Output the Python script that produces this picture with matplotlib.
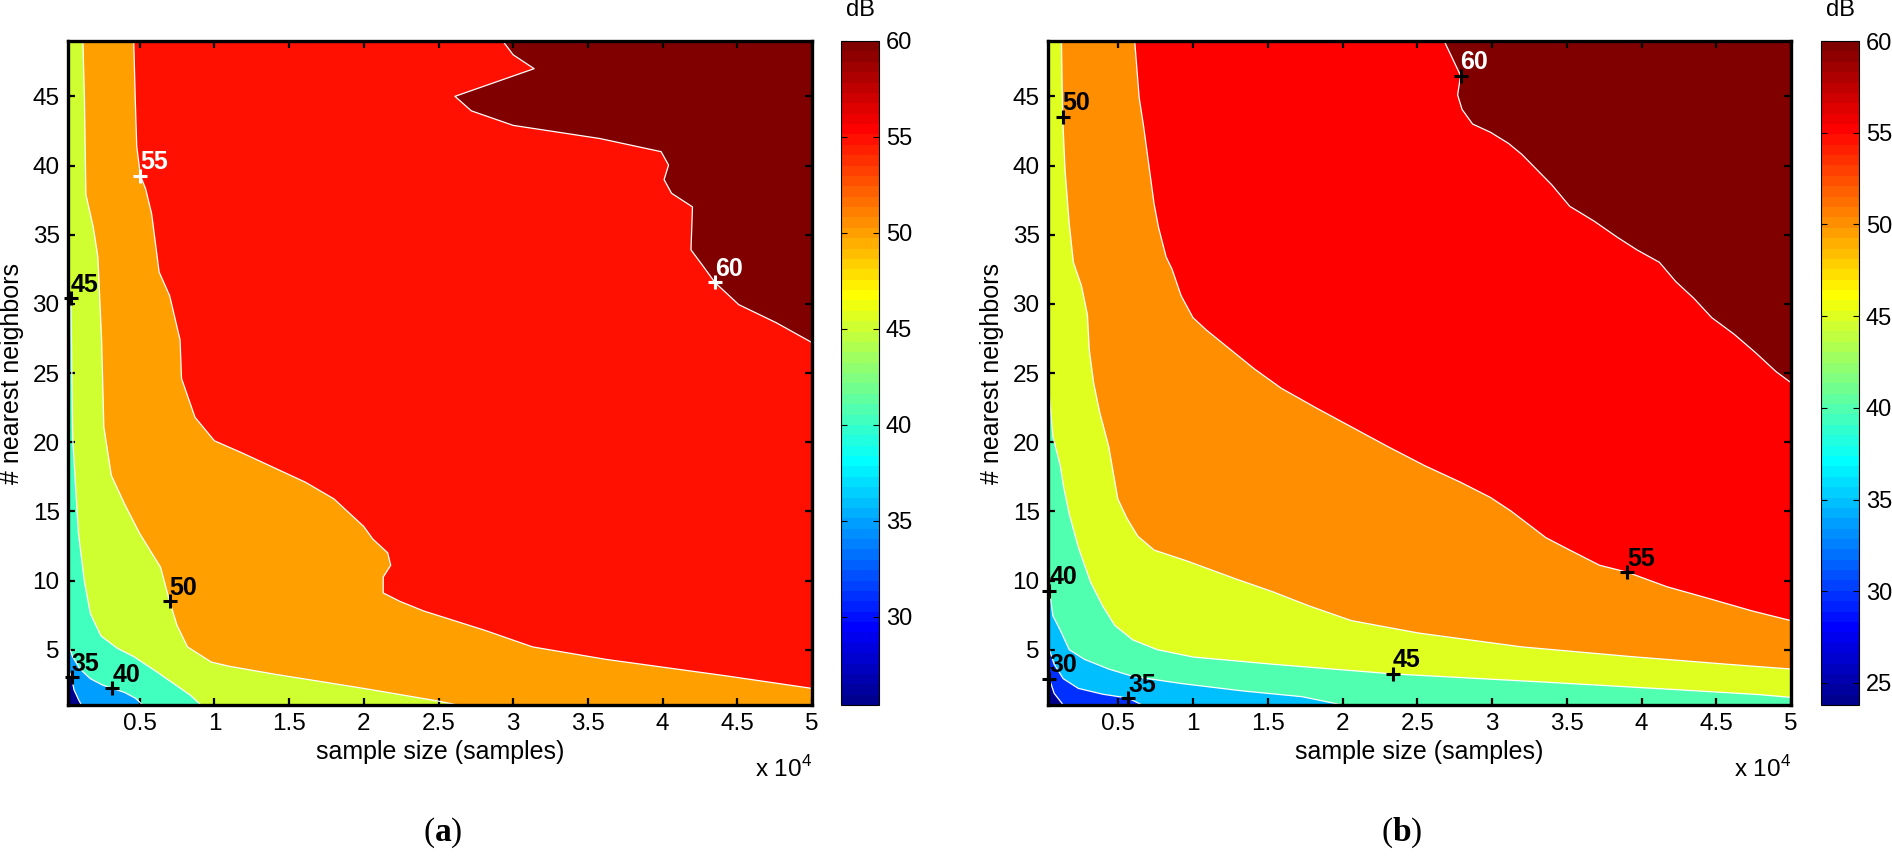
import numpy as np
import matplotlib
matplotlib.use("Agg")
import matplotlib.pyplot as plt
from matplotlib.colors import ListedColormap, Normalize
from matplotlib.cm import ScalarMappable

plt.rcParams['font.family'] = ['Liberation Sans', 'DejaVu Sans']
plt.rcParams['mathtext.fontset'] = 'custom'
plt.rcParams['mathtext.rm'] = 'Liberation Sans'
plt.rcParams['mathtext.bf'] = 'Liberation Serif:bold'

# x in units of 10^4 samples, y = number of nearest neighbours
# each contour line is read off the picture, from its upper/left end to its lower/right end

# ---- panel (a) ----
a_clim = (25.4, 60.0)
a_xlim = (0.02, 5.0)
a_ylim = (1.0, 49.0)

a35_x = [0.02, 0.044, 0.06, 0.09, 0.11]
a35_y = [3.6, 3.0, 2.1, 1.4, 1.0]
a40_x = [0.02, 0.05, 0.10, 0.17, 0.25, 0.316, 0.40, 0.47, 0.52]
a40_y = [5.4, 4.5, 3.6, 2.9, 2.45, 2.21, 1.9, 1.5, 1.0]
a45_x = [0.02, 0.039, 0.043, 0.051, 0.07, 0.09, 0.13, 0.17, 0.24, 0.35, 0.46, 0.60, 0.72, 0.84, 0.91]
a45_y = [31.5, 30.4, 27.4, 20.4, 16.9, 13.4, 9.9, 7.6, 6.0, 5.1, 4.5, 3.5, 2.6, 1.7, 1.0]
a50_x = [0.12, 0.13, 0.14, 0.19, 0.22, 0.245, 0.26, 0.31, 0.40, 0.50, 0.64, 0.70, 0.75, 0.82, 0.98,
         1.10, 1.39, 2.00, 2.49, 2.63]
a50_y = [49.0, 44.9, 37.9, 35.5, 33.4, 27.4, 21.1, 17.6, 15.5, 13.4, 10.95, 8.5, 6.75, 5.2, 4.1,
         3.8, 3.25, 2.2, 1.3, 1.0]
a55_x = [0.46, 0.47, 0.48, 0.505, 0.54, 0.58, 0.63, 0.70, 0.77, 0.78, 0.87, 1.00, 1.19, 1.41, 1.61,
         1.80, 2.00, 2.06, 2.16, 2.18, 2.13, 2.13, 2.24, 2.40, 2.81, 3.13, 3.62, 4.43, 5.0]
a55_y = [49.0, 44.9, 41.4, 39.26, 38.3, 36.5, 32.3, 30.6, 27.4, 24.6, 21.8, 20.1, 19.2, 18.1, 17.1,
         15.9, 13.9, 13.0, 12.0, 11.1, 10.25, 9.1, 8.5, 7.8, 6.4, 5.2, 4.3, 3.1, 2.2]
a60_x = [2.93, 3.00, 3.14, 2.61, 2.72, 3.00, 3.58, 3.99, 4.04, 4.01, 4.06, 4.20, 4.19, 4.27, 4.35,
         4.51, 4.76, 5.0]
a60_y = [49.0, 48.0, 47.0, 45.0, 43.95, 42.9, 41.95, 41.0, 40.03, 38.98, 37.99, 37.01, 33.9, 32.74,
         31.55, 29.94, 28.64, 27.2]

a_label_x = [0.044, 0.316, 0.039, 0.70, 0.505, 4.35]
a_label_y = [3.0, 2.21, 30.4, 8.5, 39.26, 31.55]
a_label_lev = [35, 40, 45, 50, 55, 60]

# ---- panel (b) ----
b_clim = (23.8, 60.0)
b_xlim = (0.03, 5.0)
b_ylim = (1.0, 49.0)

b30_x = [0.03, 0.039, 0.071, 0.132]
b30_y = [3.1, 2.9, 1.85, 1.0]
b35_x = [0.03, 0.071, 0.132, 0.233, 0.396, 0.566, 0.66]
b35_y = [5.3, 3.95, 2.9, 2.2, 1.78, 1.5, 1.0]
b40_x = [0.03, 0.039, 0.063, 0.112, 0.172, 0.274, 0.436, 0.598, 0.923, 1.33, 1.73, 2.0]
b40_y = [9.6, 9.27, 7.45, 6.4, 5.0, 4.3, 3.6, 3.07, 2.55, 2.02, 1.6, 1.0]
b45_x = [0.03, 0.063, 0.112, 0.132, 0.172, 0.233, 0.314, 0.396, 0.477, 0.598, 0.761, 1.00, 1.53,
         2.335, 3.36, 4.17, 4.79, 5.0]
b45_y = [24.5, 20.4, 18.3, 16.9, 14.8, 12.4, 9.9, 8.15, 6.75, 5.7, 5.0, 4.47, 3.95,
         3.25, 2.65, 2.15, 1.75, 1.55]
b50_x = [0.12, 0.128, 0.144, 0.172, 0.20, 0.254, 0.294, 0.306, 0.335, 0.375, 0.436, 0.497, 0.558,
         0.631, 0.74, 0.963, 1.29, 1.53, 1.78, 2.06, 2.51, 3.20, 3.93, 4.57, 5.0]
b50_y = [49.0, 43.53, 39.7, 35.8, 33.0, 31.3, 29.2, 26.7, 24.3, 22.2, 19.7, 15.9, 14.5,
         13.2, 12.2, 11.4, 10.1, 9.2, 8.15, 7.1, 6.2, 5.2, 4.5, 3.95, 3.6]
b55_x = [0.61, 0.64, 0.67, 0.70, 0.74, 0.77, 0.82, 0.86, 0.92, 1.00, 1.09, 1.25, 1.41, 1.59, 1.82,
         2.06, 2.30, 2.55, 2.79, 2.99, 3.13, 3.36, 3.52, 3.72, 3.905, 4.17, 4.45, 4.74, 5.0]
b55_y = [49.0, 44.9, 42.8, 40.4, 37.2, 35.5, 33.4, 32.5, 30.6, 29.0, 28.1, 26.7, 25.3, 23.9, 22.5,
         21.1, 19.7, 18.3, 17.1, 16.0, 15.0, 13.1, 12.2, 11.1, 10.6, 9.55, 8.7, 7.8, 7.1]
b60_x = [2.68, 2.79, 2.77, 2.80, 2.87, 2.99, 3.11, 3.20, 3.30, 3.40, 3.52, 3.68, 3.84, 3.97, 4.12,
         4.23, 4.35, 4.47, 4.62, 4.76, 4.90, 5.0]
b60_y = [49.0, 46.5, 45.1, 44.05, 43.0, 42.4, 41.6, 40.8, 39.7, 38.6, 37.05, 36.0, 34.8, 33.9, 33.0,
         31.6, 30.4, 29.0, 27.8, 26.5, 25.1, 24.3]

b_label_x = [0.039, 0.566, 0.039, 2.335, 0.128, 3.905, 2.79]
b_label_y = [2.9, 1.5, 9.27, 3.25, 43.53, 10.6, 46.5]
b_label_lev = [30, 35, 40, 45, 50, 55, 60]


def matlab_jet(m=64):
    # same construction as MATLAB's jet(m)
    n = int(np.ceil(m / 4))
    u = np.concatenate([np.arange(1, n + 1) / n, np.ones(n - 1), np.arange(n, 0, -1) / n])
    g = int(np.ceil(n / 2)) - (1 if m % 4 == 1 else 0) + np.arange(1, len(u) + 1)
    r = g + n
    b = g - n
    r = r[r <= m]
    g = g[g <= m]
    b = b[b > 0]
    J = np.zeros((m, 3))
    J[r - 1, 0] = u[:len(r)]
    J[g - 1, 1] = u[:len(g)]
    J[b - 1, 2] = u[len(u) - len(b):]
    return J


def perim_pos(x, y, xlim, ylim):
    x0, x1 = xlim
    y0, y1 = ylim
    if np.isclose(y, y0):
        return (x - x0) / (x1 - x0)
    if np.isclose(x, x1):
        return 1 + (y - y0) / (y1 - y0)
    if np.isclose(y, y1):
        return 2 + (x1 - x) / (x1 - x0)
    return 3 + (y1 - y) / (y1 - y0)


def high_side(xs, ys, xlim, ylim):
    # close the contour along the frame, counter-clockwise from its end to its start
    corners = {1: (xlim[1], ylim[0]), 2: (xlim[1], ylim[1]), 3: (xlim[0], ylim[1]), 0: (xlim[0], ylim[0])}
    t_end = perim_pos(xs[-1], ys[-1], xlim, ylim)
    t_start = perim_pos(xs[0], ys[0], xlim, ylim)
    if t_start <= t_end:
        t_start += 4
    px, py = list(xs), list(ys)
    for k in range(1, 9):
        if t_end < k < t_start:
            cx, cy = corners[k % 4]
            px.append(cx)
            py.append(cy)
    return px, py


def draw_panel(fig, ax, cax, lines, clim, xlim, ylim, labels, white_text, white_marks, cticks):
    cmap = ListedColormap(matlab_jet(64))
    norm = Normalize(*clim)
    ax.set_xlim(xlim)
    ax.set_ylim(ylim)
    ax.set_facecolor(cmap(norm(clim[0])))
    for lev, xs, ys in lines:
        px, py = high_side(xs, ys, xlim, ylim)
        ax.fill(px, py, color=cmap(norm(lev)), lw=0, zorder=1)
    for lev, xs, ys in lines:
        ax.plot(xs, ys, color='white', lw=0.9, zorder=2)

    lx, ly, llev = labels
    for x, y, lev in zip(lx, ly, llev):
        mc = 'white' if lev in white_marks else 'black'
        tc = 'white' if lev in white_text else 'black'
        ax.plot(x, y, marker='+', ms=10, mew=2.2, color=mc, zorder=4, clip_on=False)
        ax.annotate(str(lev), (x, y), xytext=(0, 1), textcoords='offset points',
                    ha='left', va='bottom', fontsize=18, fontweight='bold', color=tc, zorder=5)

    ax.set_xticks([0.5, 1, 1.5, 2, 2.5, 3, 3.5, 4, 4.5, 5])
    ax.set_xticklabels(['0.5', '1', '1.5', '2', '2.5', '3', '3.5', '4', '4.5', '5'])
    ax.set_yticks([5, 10, 15, 20, 25, 30, 35, 40, 45])
    ax.tick_params(direction='in', length=5, width=1.6, top=True, right=True,
                   labelsize=17.5, pad=6)
    for s in ax.spines.values():
        s.set_linewidth(2.4)
        s.set_zorder(6)
    ax.set_xlabel('sample size (samples)', fontsize=18)
    ax.xaxis.set_label_coords(0.5, -0.052)
    ax.set_ylabel('# nearest neighbors', fontsize=18)
    ax.yaxis.set_label_coords(-0.059, 0.5)
    ax.text(1.0, -0.108, r'x 10$^4$', transform=ax.transAxes, ha='right', va='baseline', fontsize=17.5)

    cb = fig.colorbar(ScalarMappable(norm=norm, cmap=cmap), cax=cax)
    cb.set_ticks(cticks)
    cb.outline.set_linewidth(0.8)
    cax.tick_params(direction='in', length=4, width=0.8, left=True, right=True,
                    labelsize=17, pad=5)
    pos = cax.get_position()
    fig.text((pos.x0 + pos.x1) / 2, 1 - 16 / 858, 'dB', ha='center', va='baseline', fontsize=17)


W, H = 1892, 858
fig = plt.figure(figsize=(W / 100, H / 100), dpi=100)
ax_a = fig.add_axes([68 / W, 1 - 705 / H, 744 / W, 664 / H])
cax_a = fig.add_axes([841 / W, 1 - 705 / H, 38 / W, 664 / H])
ax_b = fig.add_axes([1048 / W, 1 - 705 / H, 743 / W, 664 / H])
cax_b = fig.add_axes([1821 / W, 1 - 705 / H, 38 / W, 664 / H])

a_lines = [(35, a35_x, a35_y), (40, a40_x, a40_y), (45, a45_x, a45_y),
           (50, a50_x, a50_y), (55, a55_x, a55_y), (60, a60_x, a60_y)]
b_lines = [(30, b30_x, b30_y), (35, b35_x, b35_y), (40, b40_x, b40_y), (45, b45_x, b45_y),
           (50, b50_x, b50_y), (55, b55_x, b55_y), (60, b60_x, b60_y)]

draw_panel(fig, ax_a, cax_a, a_lines, a_clim, a_xlim, a_ylim,
           (a_label_x, a_label_y, a_label_lev), white_text={55, 60}, white_marks={55, 60},
           cticks=[30, 35, 40, 45, 50, 55, 60])
draw_panel(fig, ax_b, cax_b, b_lines, b_clim, b_xlim, b_ylim,
           (b_label_x, b_label_y, b_label_lev), white_text={60}, white_marks=set(),
           cticks=[25, 30, 35, 40, 45, 50, 55, 60])

fig.text(443 / W, 1 - 833 / H, r'($\mathbf{a}$)', ha='center', va='center', fontsize=24,
         family='Liberation Serif')
fig.text(1402 / W, 1 - 833 / H, r'($\mathbf{b}$)', ha='center', va='center', fontsize=24,
         family='Liberation Serif')

fig.savefig('out.png', dpi=100)
